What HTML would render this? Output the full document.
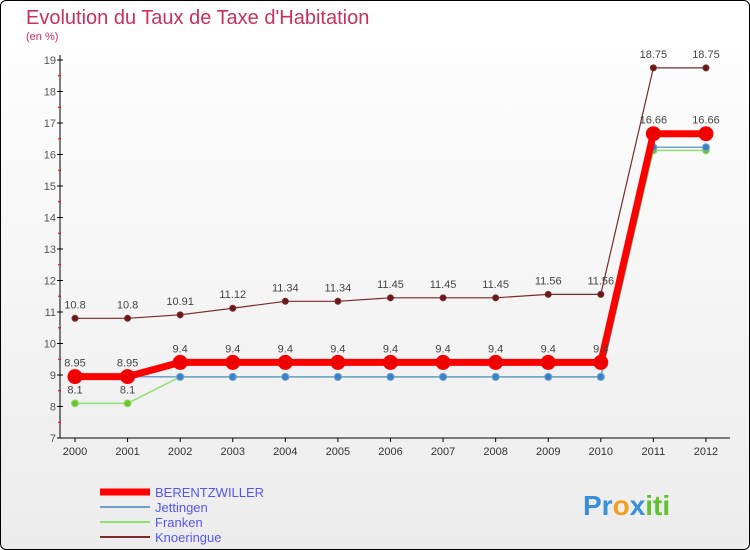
<!DOCTYPE html>
<html><head><meta charset="utf-8"><style>
body{margin:0;width:750px;height:550px;overflow:hidden;font-family:"Liberation Sans",sans-serif}
#c{position:absolute;left:0;top:0;width:748px;height:548px;border:1px solid #000;border-radius:6px;background:linear-gradient(#fff,#ececec)}
</style></head><body>
<div id="c">
<svg id="s" width="750" height="550" style="position:absolute;left:-1px;top:-1px">
<text x="26" y="24" font-size="20" fill="#c8305e">Evolution du Taux de Taxe d'Habitation</text>
<text x="26" y="40" font-size="11" fill="#c8305e">(en %)</text>
<g id="axes"></g><g id="series"></g>
<g font-size="13">
<line x1="100" y1="492" x2="150" y2="492" stroke="#f00" stroke-width="7"/><text x="155" y="497" fill="#5555ee">BERENTZWILLER</text>
<line x1="100" y1="507" x2="150" y2="507" stroke="#6fa0d0" stroke-width="2"/><text x="155" y="512" fill="#5555ee">Jettingen</text>
<line x1="100" y1="522" x2="150" y2="522" stroke="#90e070" stroke-width="2"/><text x="155" y="527" fill="#5555ee">Franken</text>
<line x1="100" y1="537" x2="150" y2="537" stroke="#7a2a2a" stroke-width="2"/><text x="155" y="542" fill="#5555ee">Knoeringue</text>
</g>
<text x="583" y="515" font-size="28" font-weight="bold"><tspan fill="#3a8fd8">Pr</tspan><tspan fill="#f0a020">o</tspan><tspan fill="#3a8fd8">x</tspan><tspan fill="#60c030">iti</tspan></text>
</svg></div>
<script>
const years=[2000,2001,2002,2003,2004,2005,2006,2007,2008,2009,2010,2011,2012];
const yTicks=[7,8,9,10,11,12,13,14,15,16,17,18,19];
const berentzwiller=[8.95,8.95,9.4,9.4,9.4,9.4,9.4,9.4,9.4,9.4,9.4,16.66,16.66];
const jettingen=[8.95,8.95,8.94,8.94,8.94,8.94,8.94,8.94,8.94,8.94,8.94,16.23,16.23];
const franken=[8.1,8.1,8.94,8.94,8.94,8.94,8.94,8.94,8.94,8.94,8.94,16.13,16.13];
const knoeringue=[10.8,10.8,10.91,11.12,11.34,11.34,11.45,11.45,11.45,11.56,11.56,18.75,18.75];
const NS="http://www.w3.org/2000/svg";
const xs=i=>75+i*52.58, ys=v=>438-(v-7)*31.5;
function mk(t,a,p){const e=document.createElementNS(NS,t);for(const k in a)e.setAttribute(k,a[k]);p.appendChild(e);return e;}
const ax=document.getElementById('axes');
let e=mk('line',{x1:60,y1:55,x2:60,y2:438,stroke:'#000'},ax);

e=mk('line',{x1:60,y1:438,x2:730,y2:438,stroke:'#000'},ax);

yTicks.forEach(v=>{const y=ys(v);mk('line',{x1:57,y1:y,x2:63,y2:y,stroke:'#000'},ax);
if(v<19)mk('line',{x1:58,y1:y-15.75,x2:61,y2:y-15.75,stroke:'#f00'},ax);
const t=mk('text',{x:56,y:y+4,'font-size':11,fill:'#555','text-anchor':'end'},ax);t.textContent=v;
});
years.forEach((yr,i)=>{const x=xs(i);mk('line',{x1:x,y1:438,x2:x,y2:442,stroke:'#000'},ax);
const t=mk('text',{x:x,y:455,'font-size':11,fill:'#333','text-anchor':'middle'},ax);t.textContent=yr;
});
const sg=document.getElementById('series');
function draw(name,d,col,w,r,fill,lab){const g=mk('g',{},sg);

mk('polyline',{points:d.map((v,i)=>xs(i)+','+ys(v)).join(' '),fill:'none',stroke:col,'stroke-width':w},g);
d.forEach((v,i)=>{const c=mk('circle',{cx:xs(i),cy:ys(v),r:r,fill:fill,stroke:col},g);

if(lab){const t=mk('text',{x:xs(i),y:ys(v)-10,'font-size':11,fill:'#444','text-anchor':'middle'},g);t.textContent=v;
}});}
draw('knoeringue',knoeringue,'#7a2a2a',1.2,3,'#6a1a1a',true);
draw('franken',franken,'#90e070',1.5,3.5,'#70c030',false);
draw('jettingen',jettingen,'#6fa0d0',1.5,3.5,'#3a80c8',false);
draw('berentzwiller',berentzwiller,'#f00',7,7,'#e00',true);
franken.forEach((v,i)=>{if(i<2){const t=mk('text',{x:xs(i),y:ys(v)-10,'font-size':11,fill:'#444','text-anchor':'middle'},sg);t.textContent=v;
}});
</script>
</body></html>
